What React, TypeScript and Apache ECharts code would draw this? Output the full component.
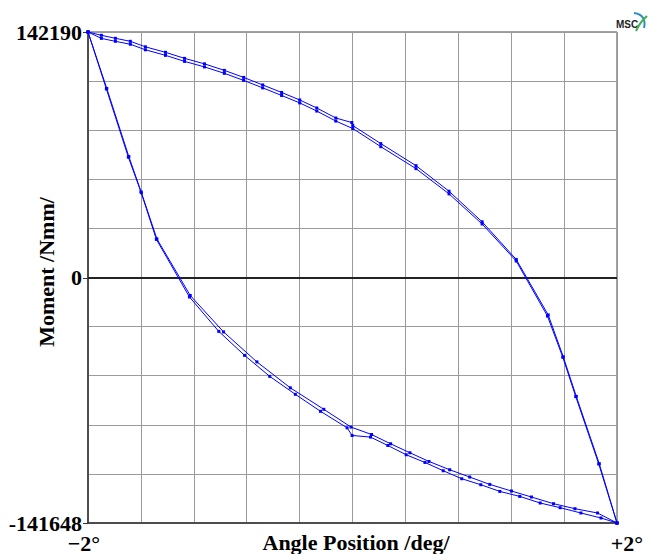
import React, { useEffect, useRef } from 'react';
import * as echarts from 'echarts';

// Upper branch, first pass
const upperA_deg = [-2, -1.899, -1.793, -1.68, -1.566, -1.414, -1.27, -1.119, -0.969, -0.823, -0.679, -0.536, -0.399, -0.27, -0.126, -0.005, 0.002, 0.214, 0.48, 0.73, 0.98, 1.238, 1.48, 1.594, 1.692, 1.866, 2.0];
const upperA_mom = [142190, 140287, 138548, 136809, 133621, 130433, 126954, 123766, 119998, 115940, 111592, 107245, 102897, 98259, 92462, 89854, 88114, 77680, 64926, 50144, 32463, 10724, -21364, -45615, -68422, -107396, -141648];
// Upper branch, second pass
const upperB_deg = [-2, -1.899, -1.793, -1.68, -1.566, -1.414, -1.27, -1.119, -0.969, -0.823, -0.679, -0.536, -0.399, -0.27, -0.126, 0.002, 0.214, 0.48, 0.73, 0.98, 1.238, 1.474, 1.59, 1.688, 1.862, 2.0];
const upperB_mom = [142190, 138500, 136800, 135100, 131900, 128700, 125200, 122000, 118300, 114200, 109900, 105500, 101200, 96500, 90700, 86400, 75900, 63200, 48600, 31200, 9800, -22000, -45800, -68600, -107500, -141648];
// Lower branch, first pass
const lowerA_deg = [-2, -1.858, -1.691, -1.596, -1.479, -1.227, -0.975, -0.723, -0.47, -0.217, -0.011, 0.144, 0.288, 0.434, 0.578, 0.735, 0.886, 1.038, 1.202, 1.353, 1.52, 1.682, 1.853, 2.0];
const lowerA_mom = [142190, 109563, 70144, 49275, 22608, -10105, -31180, -48502, -63514, -75928, -86206, -90479, -95848, -101045, -106068, -110861, -115076, -119348, -123159, -126624, -130492, -133379, -135862, -141648];
// Lower branch, second pass
const lowerB_deg = [-2, -1.861, -1.695, -1.6, -1.483, -1.233, -1.011, -0.816, -0.626, -0.432, -0.242, -0.041, -0.003, 0.136, 0.267, 0.406, 0.548, 0.686, 0.826, 0.97, 1.114, 1.265, 1.419, 1.57, 1.727, 1.879, 2.0];
const lowerB_mom = [142190, 109273, 69854, 49854, 22318, -10971, -30891, -44749, -56874, -67267, -77083, -86610, -91056, -91980, -96830, -102200, -106646, -111438, -116057, -119522, -123390, -126277, -130088, -132802, -135862, -138749, -141648];

const yMin = -141648;
const yMax = 142190;
const yTickValues = [-141648, 0, 142190];
const xMin = -2;
const xMax = 2;
const xStep = 0.4;

const zip = (xs: number[], ys: number[]) => xs.map((x, i) => [x, ys[i]]);

const FONT = '"Liberation Serif", "Times New Roman", serif';
const BLUE = '#0000ff';

function lineSeries(name: string, data: number[][], withZero = false) {
  const s: any = {
    name,
    type: 'line',
    data,
    xAxisIndex: 0,
    yAxisIndex: 0,
    symbol: 'rect',
    symbolSize: 3,
    showSymbol: true,
    lineStyle: { color: BLUE, width: 1 },
    itemStyle: { color: BLUE },
    z: 3,
  };
  if (withZero) {
    s.markLine = {
      silent: true,
      symbol: ['none', 'none'],
      label: { show: false },
      lineStyle: { color: '#222', width: 2, type: 'solid' },
      data: [{ yAxis: 0 }],
      z: 2,
    };
  }
  return s;
}

export default function App() {
  const ref = useRef<HTMLDivElement>(null);
  useEffect(() => {
    const chart = echarts.init(ref.current!, null, { renderer: 'svg' });
    const option: any = {
      animation: false,
      backgroundColor: '#ffffff',
      grid: {
        left: 88,
        top: 32,
        width: 529,
        height: 491,
        show: true,
        borderColor: '#444',
        borderWidth: 1,
        backgroundColor: 'transparent',
      },
      xAxis: {
        type: 'value',
        min: xMin,
        max: xMax,
        interval: xStep,
        axisLine: { show: true, onZero: false, lineStyle: { color: '#333', width: 1.5 } },
        axisTick: { show: false },
        axisLabel: { show: false },
        splitLine: { show: true, lineStyle: { color: '#9a9a9a', width: 1 } },
      },
      yAxis: [
        {
          type: 'value',
          min: yMin,
          max: yMax,
          axisLine: { show: true, onZero: false, lineStyle: { color: '#333', width: 1.5 } },
          axisTick: { show: true, length: 5, customValues: yTickValues, lineStyle: { color: '#333' } },
          axisLabel: {
            show: true,
            customValues: yTickValues,
            margin: 6,
            color: '#000',
            fontFamily: FONT,
            fontWeight: 'bold',
            fontSize: 22,
            lineHeight: 16,
            formatter: (v: number) => String(v),
          },
          splitLine: { show: false },
        },
        {
          type: 'value',
          min: 0,
          max: 10,
          interval: 1,
          position: 'left',
          axisLine: { show: false, onZero: false },
          axisTick: { show: false },
          axisLabel: { show: false },
          splitLine: { show: true, lineStyle: { color: '#9a9a9a', width: 1 } },
        },
      ],
      series: [
        lineSeries('upperA', zip(upperA_deg, upperA_mom), true),
        lineSeries('upperB', zip(upperB_deg, upperB_mom)),
        lineSeries('lowerA', zip(lowerA_deg, lowerA_mom)),
        lineSeries('lowerB', zip(lowerB_deg, lowerB_mom)),
      ],
      graphic: [
        {
          type: 'text',
          x: 84,
          y: 543,
          style: { text: '−2°', align: 'center', verticalAlign: 'middle', lineHeight: 16, font: `bold 22px ${FONT}`, fill: '#000' },
        },
        {
          type: 'text',
          x: 627,
          y: 543,
          style: { text: '+2°', align: 'center', verticalAlign: 'middle', lineHeight: 16, font: `bold 22px ${FONT}`, fill: '#000' },
        },
        {
          type: 'text',
          x: 356,
          y: 542,
          style: { text: 'Angle Position /deg/', align: 'center', verticalAlign: 'middle', lineHeight: 20, font: `bold 22px ${FONT}`, fill: '#000' },
        },
        {
          type: 'text',
          x: 46,
          y: 272,
          rotation: Math.PI / 2,
          style: { text: 'Moment /Nmm/', align: 'center', verticalAlign: 'middle', font: `bold 22px ${FONT}`, fill: '#000' },
        },
        {
          type: 'text',
          x: 627,
          y: 24,
          style: { text: 'MSC', align: 'center', verticalAlign: 'middle', font: 'bold 10px "Liberation Sans", sans-serif', fill: '#222' },
        },
        {
          type: 'bezierCurve',
          shape: { x1: 634, y1: 13, x2: 644, y2: 28, cpx1: 647, cpy1: 15 },
          style: { stroke: '#2a8fc8', lineWidth: 2, fill: 'none' },
        },
        {
          type: 'bezierCurve',
          shape: { x1: 636, y1: 31, x2: 647, y2: 16, cpx1: 640, cpy1: 22 },
          style: { stroke: '#3cb04a', lineWidth: 2, fill: 'none' },
        },
      ],
    };
    chart.setOption(option);
    return () => chart.dispose();
  }, []);
  return (
    <div
      ref={ref}
      style={{ position: 'fixed', left: 0, top: 0, width: 654, height: 554, background: '#fff' }}
    />
  );
}
